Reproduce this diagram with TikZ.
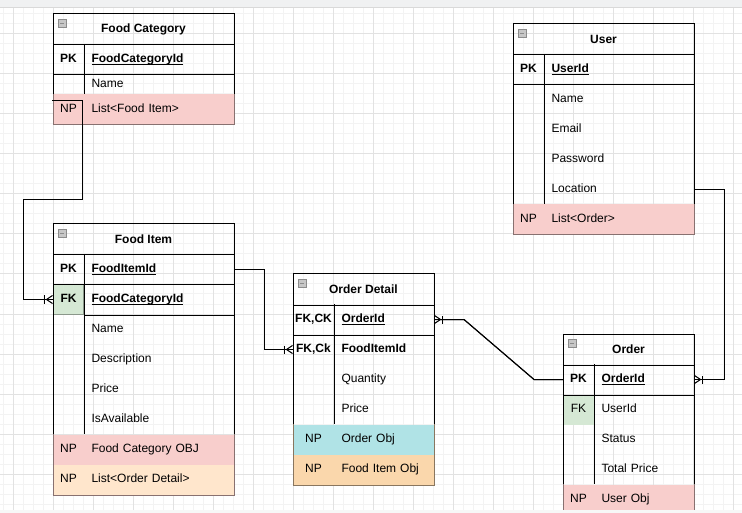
\documentclass[tikz,border=0pt]{standalone}
\usepackage{fontspec}
\setmainfont{Liberation Sans}
\usetikzlibrary{positioning,arrows.meta}
\definecolor{npred}{HTML}{F8CECC}
\definecolor{nppeach}{HTML}{FFE6CC}
\definecolor{npcyan}{HTML}{B0E3E6}
\definecolor{nporange}{HTML}{FAD7AC}
\definecolor{fkgreen}{HTML}{D5E8D4}
\definecolor{gridminor}{HTML}{F3F3F3}
\definecolor{gridmajor}{HTML}{E2E2E2}
\definecolor{topbar}{HTML}{F0F1F2}
\newcommand\keyul[1]{\underline{\smash{#1}}}

\begin{document}
\begin{tikzpicture}[x=1pt,y=-1pt,line width=1pt,
  title/.style={anchor=north west,minimum width=#1,minimum height=30,inner sep=0,
    font=\fontsize{12}{14}\selectfont\bfseries},
  keyc/.style={anchor=north west,minimum width=#1,minimum height=30,inner sep=0,
    text height=8.6pt,text depth=2.4pt,font=\fontsize{12}{14}\selectfont},
  fldc/.style={anchor=north west,text width=#1,inner xsep=8pt,inner ysep=0,
    minimum height=30,align=left,text height=8.6pt,text depth=2.4pt,
    font=\fontsize{12}{14}\selectfont},
  minusbox/.style={draw=black!45,fill=black!22,line width=0.8pt,minimum width=8pt,
    minimum height=8pt,inner sep=0,
    path picture={\draw[line width=1pt] ([xshift=2pt]path picture bounding box.west)
      -- ([xshift=-2pt]path picture bounding box.east);}},
  rowline/.style={draw=black!45!#1},
  many/.style={postaction={draw,-{Bar[width=8pt,sep=1pt]Straight Barb[reversed,length=6pt,width=8pt]}}},
  manystart/.style={postaction={draw,{Straight Barb[reversed,length=6pt,width=8pt]Bar[width=8pt,sep=1pt]}-}}]
\useasboundingbox (0,0) rectangle (742,513);
\fill[white] (0,0) rectangle (742,513);
\foreach \x in {3,13,...,743} \draw[gridminor] (\x,7) -- (\x,513);
\foreach \y in {14,24,...,514} \draw[gridminor] (0,\y) -- (742,\y);
\foreach \x in {13,53,...,733} \draw[gridmajor] (\x,7) -- (\x,513);
\foreach \y in {34,74,...,514} \draw[gridmajor] (0,\y) -- (742,\y);
\fill[topbar] (0,0) rectangle (742,7);
\draw[black!15] (0,7.5) -- (742,7.5);

\node[title=180] (fc) at (53,14) {Food Category};
\node[minusbox,below right=5pt and 5pt of fc.north west] (fcmin) {};
\node[keyc=30] (fcpkk) at (53,44) {\bfseries PK};
\node[fldc=134pt] (fcpk) at (83,44) {\bfseries\keyul{FoodCategoryId}};
\node[fldc=134pt,minimum height=20] (fcname) at (83,74) {Name};
\node[keyc=30,fill=npred] (fcnpk) at (53,94) {NP};
\node[fldc=134pt,fill=npred] (fcnp) at (83,94) {List<Food Item>};
\draw (fcnpk.north west) -- (fc.north west) -- (fc.north east) -- (fcnp.north east);
\draw (fc.south west) -- (fc.south east);
\draw (fcpkk.south west) -- (fcpk.south east);
\draw (fcpkk.north east) -- (fcnpk.north east);
\draw[rowline=npred] (fcnpk.north west) |- (fcnp.south east) -- (fcnp.north east);

\node[title=180] (fi) at (53,224) {Food Item};
\node[minusbox,below right=5pt and 5pt of fi.north west] (fimin) {};
\node[keyc=30] (fipkk) at (53,254) {\bfseries PK};
\node[fldc=134pt] (fipk) at (83,254) {\bfseries\keyul{FoodItemId}};
\node[keyc=30,fill=fkgreen,draw=black!35!fkgreen] (fifkk) at (53,284) {\bfseries FK};
\node[fldc=134pt] (fifk) at (83,284) {\bfseries\keyul{FoodCategoryId}};
\node[fldc=134pt] (finame) at (83,314) {Name};
\node[fldc=134pt] (fidesc) at (83,344) {Description};
\node[fldc=134pt] (fiprice) at (83,374) {Price};
\node[fldc=134pt] (fiavail) at (83,404) {IsAvailable};
\node[keyc=30,fill=npred] (finpk) at (53,434) {NP};
\node[fldc=134pt,fill=npred] (finp) at (83,434) {Food Category OBJ};
\node[keyc=30,fill=nppeach] (filstk) at (53,464) {NP};
\node[fldc=134pt,fill=nppeach] (filst) at (83,464) {List<Order Detail>};
\draw (finpk.north west) -- (fi.north west) -- (fi.north east) -- (finp.north east);
\draw (fi.south west) -- (fi.south east);
\draw (fipkk.south west) -- (fipk.south east);
\draw (fifkk.south east) -- (fifk.south east);
\draw (fipkk.north east) -- (finpk.north east);
\draw[rowline=npred] (finpk.north west) |- (filst.south east) -- (finp.north east);

\node[title=140] (od) at (293,274) {Order Detail};
\node[minusbox,below right=5pt and 5pt of od.north west] (odmin) {};
\node[keyc=40] (odidk) at (293,304) {\bfseries FK,CK};
\node[fldc=84pt] (odid) at (333,304) {\bfseries\keyul{OrderId}};
\node[keyc=40] (odfik) at (293,334) {\bfseries FK,Ck};
\node[fldc=84pt] (odfi) at (333,334) {\bfseries FoodItemId};
\node[fldc=84pt] (odqty) at (333,364) {Quantity};
\node[fldc=84pt] (odprice) at (333,394) {Price};
\node[keyc=40,fill=npcyan] (odordk) at (293,424) {NP};
\node[fldc=84pt,fill=npcyan] (odord) at (333,424) {Order Obj};
\node[keyc=40,fill=nporange] (odfoodk) at (293,454) {NP};
\node[fldc=84pt,fill=nporange] (odfood) at (333,454) {Food Item Obj};
\draw (odordk.north west) -- (od.north west) -- (od.north east) -- (odord.north east);
\draw (od.south west) -- (od.south east);
\draw (odidk.south west) -- (odid.south east);
\draw (odidk.north east) -- (odordk.north east);
\draw[rowline=nporange] (odordk.north west) |- (odfood.south east) -- (odord.north east);

\node[title=130] (ord) at (563,334) {Order};
\node[minusbox,below right=5pt and 5pt of ord.north west] (ordmin) {};
\node[keyc=30] (ordpkk) at (563,364) {\bfseries PK};
\node[fldc=84pt] (ordpk) at (593,364) {\bfseries\keyul{OrderId}};
\node[keyc=30,fill=fkgreen] (ordfkk) at (563,394) {FK};
\node[fldc=84pt] (ordfk) at (593,394) {UserId};
\node[fldc=84pt] (ordstat) at (593,424) {Status};
\node[fldc=84pt] (ordtot) at (593,454) {Total Price};
\node[keyc=30,fill=npred] (ordnpk) at (563,484) {NP};
\node[fldc=84pt,fill=npred] (ordnp) at (593,484) {User Obj};
\draw (ordnpk.north west) -- (ord.north west) -- (ord.north east) -- (ordnp.north east);
\draw (ord.south west) -- (ord.south east);
\draw (ordpkk.south west) -- (ordpk.south east);
\draw (ordpkk.north east) -- (ordnpk.north east);
\draw[rowline=npred] (ordnpk.north west) |- (ordnp.south east) -- (ordnp.north east);

\node[title=180] (usr) at (513,24) {User};
\node[minusbox,below right=5pt and 5pt of usr.north west] (usrmin) {};
\node[keyc=30] (uspkk) at (513,54) {\bfseries PK};
\node[fldc=134pt] (uspk) at (543,54) {\bfseries\keyul{UserId}};
\node[fldc=134pt] (usname) at (543,84) {Name};
\node[fldc=134pt] (usmail) at (543,114) {Email};
\node[fldc=134pt] (uspass) at (543,144) {Password};
\node[fldc=134pt] (usloc) at (543,174) {Location};
\node[keyc=30,fill=npred] (usnpk) at (513,204) {NP};
\node[fldc=134pt,fill=npred] (usnp) at (543,204) {List<Order>};
\draw (usnpk.north west) -- (usr.north west) -- (usr.north east) -- (usnp.north east);
\draw (usr.south west) -- (usr.south east);
\draw (uspkk.south west) -- (uspk.south east);
\draw (uspkk.north east) -- (usnpk.north east);
\draw[rowline=npred] (usnpk.north west) |- (usnp.south east) -- (usnp.north east);

\coordinate (fcout) at (52,101);
\draw[many] (fcout) -- ++(30,0) -- ++(0,99) -- ++(-59,0) |- (fifkk.west);
\draw[many] (fipk.east) -- ++(30,0) |- (odfik.west);
\draw[manystart] (odid.east) -- ++(30,0) -- ++(70,60) -- (ordpkk.west);
\draw[many] (usloc.east) -- ++(30,0) |- (ordpk.east);

\fill[black!3] (0,509.5) rectangle (742,513);
\end{tikzpicture}
\end{document}
